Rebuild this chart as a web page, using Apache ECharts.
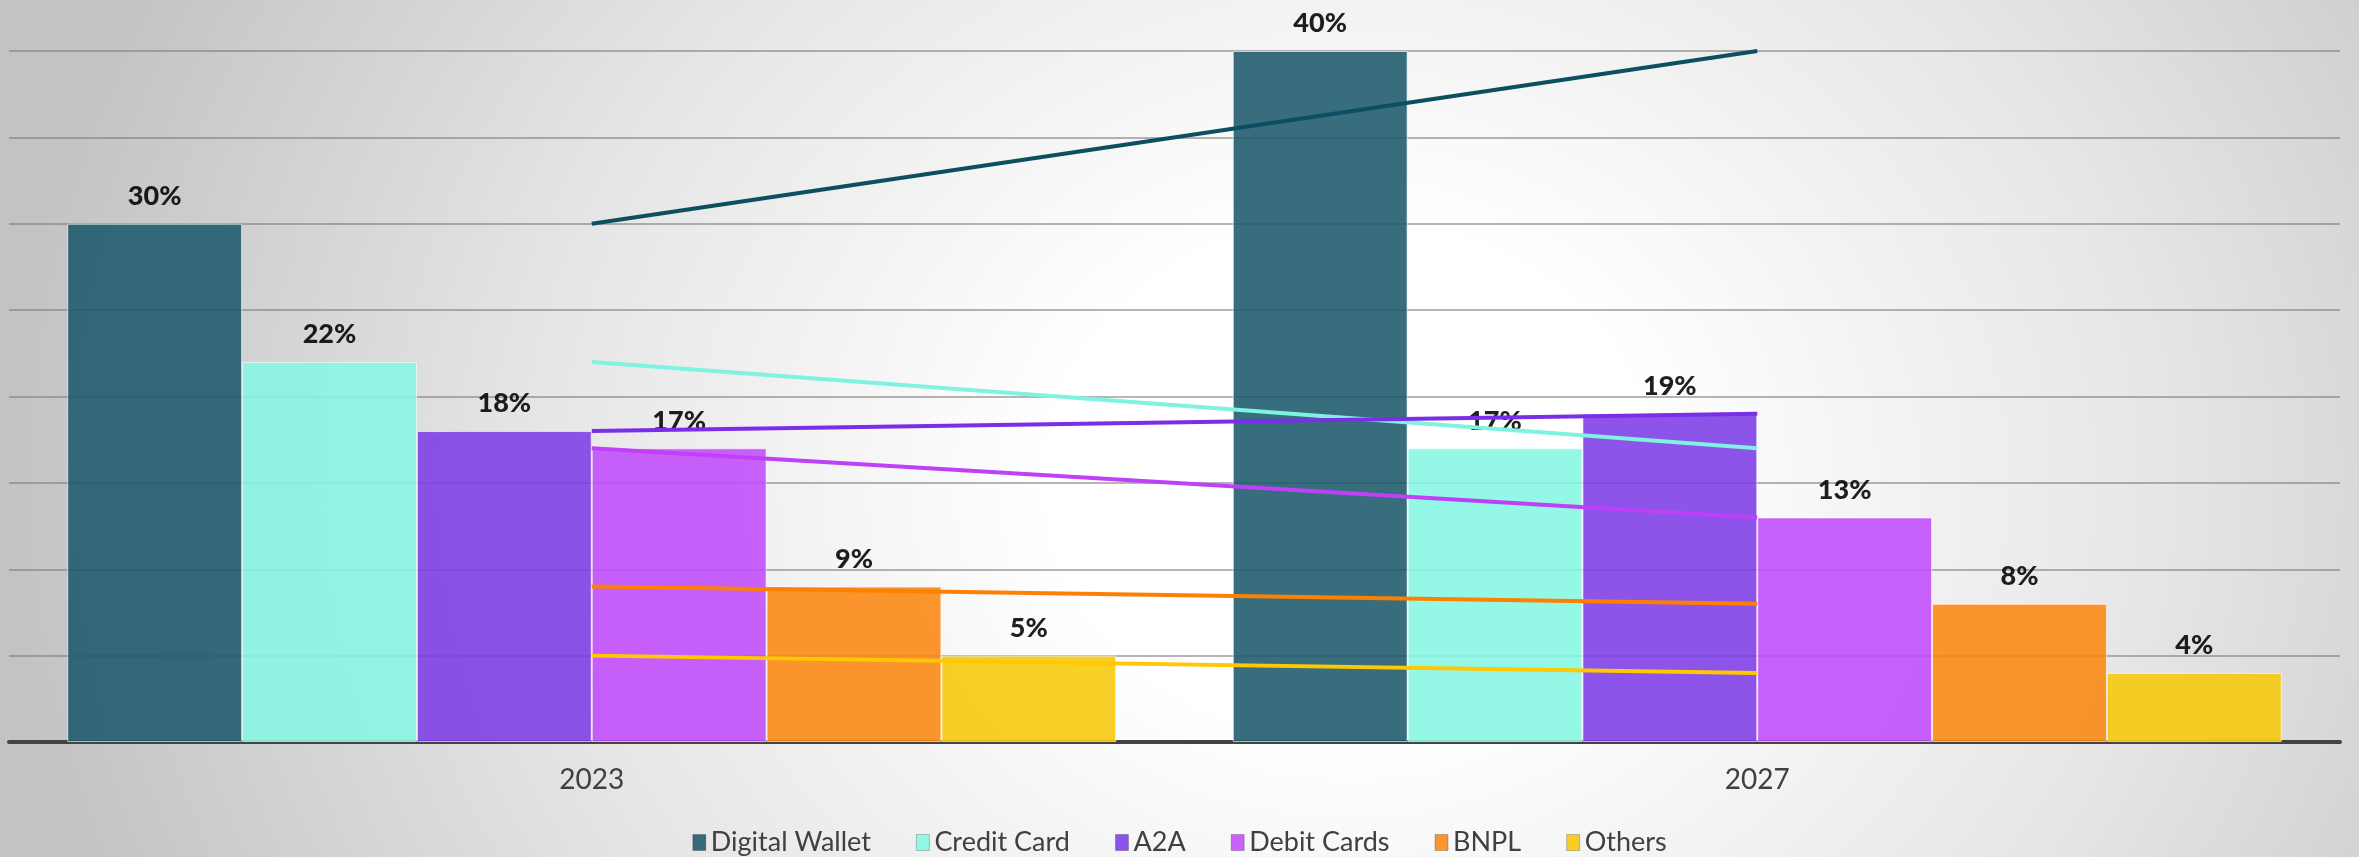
<!DOCTYPE html>
<html lang="en">
<head>
  <meta charset="UTF-8">
  <title>Payment methods share</title>
  <style>
    html, body { margin: 0; padding: 0; }
    #chart {
      width: 2359px;
      height: 857px;
      background: radial-gradient(ellipse 1350px 1150px at 1350px 480px, #ffffff 0%, #ffffff 22%, #e6e6e6 60%, #c3c3c3 100%);
    }
  </style>
</head>
<body>
  <div id="chart"></div>

  <script src="https://cdn.jsdelivr.net/npm/echarts@6/dist/echarts.min.js"></script>
  <script>
    // data
    var years = ['2023', '2027'];
    var methods = ['Digital Wallet', 'Credit Card', 'A2A', 'Debit Cards', 'BNPL', 'Others'];
    var digitalWallet = [30, 40];
    var creditCard = [22, 17];
    var a2a = [18, 19];
    var debitCards = [17, 13];
    var bnpl = [9, 8];
    var others = [5, 4];

    var barColors = ['#1b596a', '#86f6e2', '#7d3ce6', '#c04afa', '#fb8610', '#f7c809'];
    var lineColors = ['#0d4f62', '#7ef3e0', '#7a2ee8', '#c040f8', '#ff8000', '#ffc800'];
    var values = [digitalWallet, creditCard, a2a, debitCards, bnpl, others];

    var chart = echarts.init(document.getElementById('chart'));

    var series = [];
    // bars
    methods.forEach(function (name, i) {
      series.push({
        name: name,
        type: 'bar',
        data: values[i],
        barGap: '0%',
        barCategoryGap: '10%',
        z: 2,
        itemStyle: {
          color: barColors[i],
          opacity: 0.88,
          borderColor: 'rgba(255,255,255,0.7)',
          borderWidth: 1
        },
        label: {
          show: true,
          position: 'top',
          distance: 14,
          formatter: '{c}%',
          color: '#000',
          fontFamily: 'Lato',
          fontWeight: 900,
          fontSize: 27
        }
      });
    });
    // trend lines between the two years
    methods.forEach(function (name, i) {
      series.push({
        name: name + ' trend',
        type: 'line',
        data: values[i],
        z: 3,
        symbol: 'none',
        lineStyle: { color: lineColors[i], width: 4 },
        itemStyle: { color: lineColors[i] }
      });
    });

    var option = {
      backgroundColor: 'transparent',
      animation: false,
      grid: {
        left: 9,
        right: 19,
        top: 51,
        bottom: 115
      },
      legend: {
        data: methods.map(function (name, i) {
          return { name: name, itemStyle: { color: barColors[i], opacity: 0.88, borderColor: 'rgba(0,0,0,0.25)', borderWidth: 1 } };
        }),
        bottom: -4,
        left: 'center',
        icon: 'rect',
        itemWidth: 13,
        itemHeight: 16,
        itemGap: 45,
        textStyle: {
          color: '#404040',
          fontFamily: 'Lato',
          fontSize: 27
        }
      },
      xAxis: {
        type: 'category',
        data: years,
        axisLine: { lineStyle: { color: '#444', width: 4 } },
        axisTick: { show: false },
        axisLabel: {
          color: '#404040',
          fontFamily: 'Lato',
          fontSize: 28,
          margin: 24
        }
      },
      yAxis: {
        type: 'value',
        min: 0,
        max: 40,
        interval: 5,
        axisLabel: { show: false },
        axisLine: { show: false },
        axisTick: { show: false },
        splitLine: { lineStyle: { color: 'rgba(120,120,120,0.55)', width: 2 } }
      },
      series: series
    };

    chart.setOption(option);
  </script>
</body>
</html>
